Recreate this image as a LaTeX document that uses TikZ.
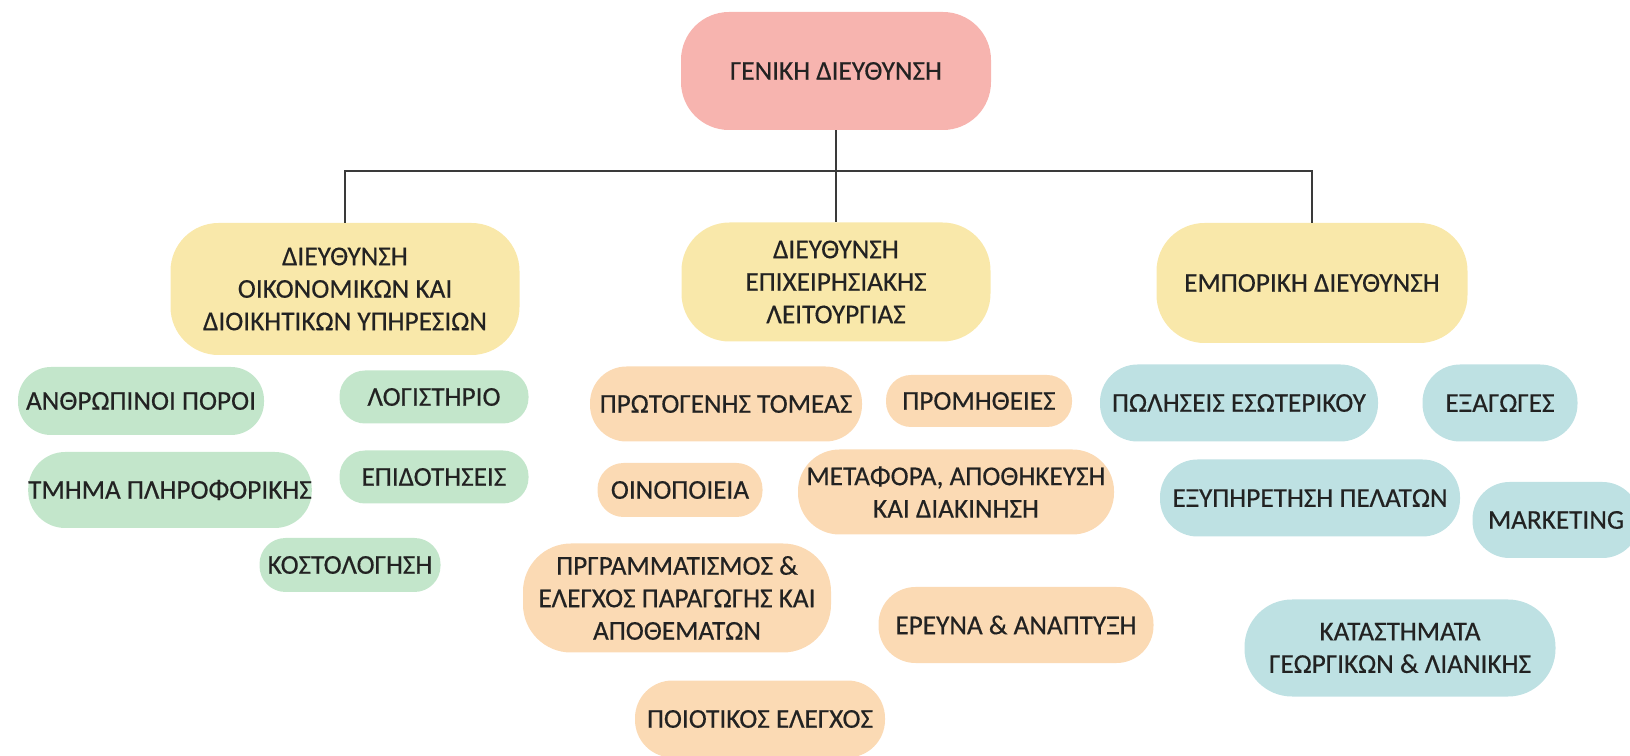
\documentclass[tikz,border=0pt]{standalone}
\usepackage{fontspec}
\setmainfont{Carlito}
\definecolor{ink}{HTML}{222222}
\definecolor{wire}{HTML}{3A3A3A}
\definecolor{rose}{HTML}{F7B4AF}
\definecolor{straw}{HTML}{F9E8AA}
\definecolor{mint}{HTML}{C3E6CB}
\definecolor{peach}{HTML}{FBDAB4}
\definecolor{aqua}{HTML}{BEE1E3}
\tikzset{
  cell/.style 2 args={minimum width=#1*0.02cm,minimum height=#2*0.02cm,
    rounded corners={min(#2/2-1,48)*0.02cm},inner sep=0pt,align=center,text=ink},
  link/.style={wire,line width=1.1pt}
}
\begin{document}
\begin{tikzpicture}[x=0.02cm,y=-0.02cm,font=\fontsize{15.5}{18.5}\selectfont\addfontfeatures{FakeBold=0.4}]
\useasboundingbox (0,0) rectangle (1630,756);
% head office
\node[cell={310}{118},fill=rose] (gd) at (836,71) {ΓΕΝΙΚΗ ΔΙΕΥΘΥΝΣΗ};
% directorates
\node[cell={349}{132},fill=straw] (oik) at (345,289) {ΔΙΕΥΘΥΝΣΗ\\ΟΙΚΟΝΟΜΙΚΩΝ ΚΑΙ\\ΔΙΟΙΚΗΤΙΚΩΝ ΥΠΗΡΕΣΙΩΝ};
\node[cell={309}{119},fill=straw] (epi) at (836,282) {ΔΙΕΥΘΥΝΣΗ\\ΕΠΙΧΕΙΡΗΣΙΑΚΗΣ\\ΛΕΙΤΟΥΡΓΙΑΣ};
\node[cell={311}{120},fill=straw] (emp) at (1312,283) {ΕΜΠΟΡΙΚΗ ΔΙΕΥΘΥΝΣΗ};
% connectors
\coordinate (bus) at (836,171);
\draw[link] (gd) -- (epi);
\draw[link] (oik.north) |- (bus) -| (emp.north);
% financial and administrative units
\node[cell={246}{68},fill=mint] (hr) at (141,401) {ΑΝΘΡΩΠΙΝΟΙ ΠΟΡΟΙ};
\node[cell={189}{53},fill=mint] (logi) at (434,397) {ΛΟΓΙΣΤΗΡΙΟ};
\node[cell={278}{76},fill=mint] (it) at (170,490) {ΤΜΗΜΑ ΠΛΗΡΟΦΟΡΙΚΗΣ};
\node[cell={189}{53},fill=mint] (epid) at (434,477) {ΕΠΙΔΟΤΗΣΕΙΣ};
\node[cell={181}{54},fill=mint] (kost) at (350,565) {ΚΟΣΤΟΛΟΓΗΣΗ};
% operations units
\node[cell={272}{75},fill=peach] (prot) at (726,404) {ΠΡΩΤΟΓΕΝΗΣ ΤΟΜΕΑΣ};
\node[cell={186}{52},fill=peach] (prom) at (979,401) {ΠΡΟΜΗΘΕΙΕΣ};
\node[cell={165}{54},fill=peach] (oino) at (680,490) {ΟΙΝΟΠΟΙΕΙΑ};
\node[cell={316}{85},fill=peach] (meta) at (956,492) {ΜΕΤΑΦΟΡΑ, ΑΠΟΘΗΚΕΥΣΗ\\ΚΑΙ ΔΙΑΚΙΝΗΣΗ};
\node[cell={308}{109},fill=peach] (prog) at (677,598) {ΠΡΓΡΑΜΜΑΤΙΣΜΟΣ \&\\ΕΛΕΓΧΟΣ ΠΑΡΑΓΩΓΗΣ ΚΑΙ\\ΑΠΟΘΕΜΑΤΩΝ};
\node[cell={275}{76},fill=peach] (ereu) at (1016,625) {ΕΡΕΥΝΑ \& ΑΝΑΠΤΥΞΗ};
\node[cell={250}{77},fill=peach] (poio) at (760,719) {ΠΟΙΟΤΙΚΟΣ ΕΛΕΓΧΟΣ};
% commercial units
\node[cell={278}{77},fill=aqua] (pol) at (1239,403) {ΠΩΛΗΣΕΙΣ ΕΣΩΤΕΡΙΚΟΥ};
\node[cell={155}{77},fill=aqua] (exa) at (1500,403) {ΕΞΑΓΩΓΕΣ};
\node[cell={300}{77},fill=aqua] (exy) at (1310,498) {ΕΞΥΠΗΡΕΤΗΣΗ ΠΕΛΑΤΩΝ};
\node[cell={167}{76},fill=aqua] (mark) at (1556,520) {MARKETING};
\node[cell={311}{97},fill=aqua] (kat) at (1400,648) {ΚΑΤΑΣΤΗΜΑΤΑ\\ΓΕΩΡΓΙΚΩΝ \& ΛΙΑΝΙΚΗΣ};
\end{tikzpicture}
\end{document}
